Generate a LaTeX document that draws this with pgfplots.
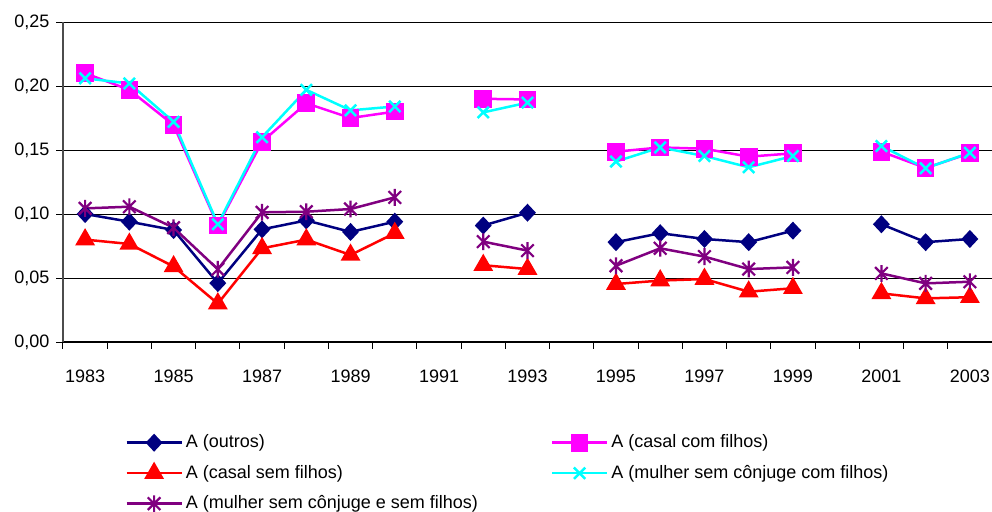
\documentclass[border=0pt]{standalone}
\usepackage{fontspec}
\setmainfont{Liberation Sans}
\usepackage{pgfplots}
\usepackage{pgfplotstable}
\pgfplotsset{compat=1.18}
\definecolor{cnavy}{RGB}{0,0,128}
\definecolor{cmag}{RGB}{255,0,255}
\definecolor{cred}{RGB}{255,0,0}
\definecolor{ccyan}{RGB}{0,255,255}
\definecolor{cpurp}{RGB}{128,0,128}
\pgfdeclareplotmark{xstar}{%
  \pgfpathmoveto{\pgfqpoint{-.75\pgfplotmarksize}{-.75\pgfplotmarksize}}%
  \pgfpathlineto{\pgfqpoint{.75\pgfplotmarksize}{.75\pgfplotmarksize}}%
  \pgfpathmoveto{\pgfqpoint{-.75\pgfplotmarksize}{.75\pgfplotmarksize}}%
  \pgfpathlineto{\pgfqpoint{.75\pgfplotmarksize}{-.75\pgfplotmarksize}}%
  \pgfpathmoveto{\pgfqpoint{0pt}{-\pgfplotmarksize}}%
  \pgfpathlineto{\pgfqpoint{0pt}{\pgfplotmarksize}}%
  \pgfusepathqstroke}
\pgfplotstableread{
year outros casalcom casalsem mulhercom mulhersem
1983 0.1000 0.2100 0.0800 0.2060 0.1044
1984 0.0940 0.1970 0.0766 0.2020 0.1057
1985 0.0875 0.1695 0.0590 0.1720 0.0893
1986 0.0460 0.0910 0.0300 0.0920 0.0568
1987 0.0880 0.1565 0.0732 0.1600 0.1013
1988 0.0950 0.1865 0.0800 0.1970 0.1018
1989 0.0860 0.1750 0.0680 0.1810 0.1039
1990 0.0940 0.1800 0.0850 0.1840 0.1130
1991 nan nan nan nan nan
1992 0.0910 0.1900 0.0600 0.1794 0.0784
1993 0.1010 0.1895 0.0570 0.1870 0.0714
1994 nan nan nan nan nan
1995 0.0780 0.1487 0.0453 0.1410 0.0596
1996 0.0850 0.1520 0.0480 0.1520 0.0732
1997 0.0805 0.1510 0.0492 0.1453 0.0667
1998 0.0780 0.1448 0.0393 0.1365 0.0570
1999 0.0870 0.1474 0.0420 0.1453 0.0583
2000 nan nan nan nan nan
2001 0.0920 0.1487 0.0380 0.1531 0.0536
2002 0.0780 0.1360 0.0341 0.1357 0.0458
2003 0.0805 0.1474 0.0350 0.1479 0.0471
}\datatable
\begin{document}
\begin{tikzpicture}
\useasboundingbox (-31.5pt,-84.5pt) rectangle (464.5pt,171pt);
\begin{axis}[
  scale only axis,
  width=464.5pt, height=160pt,
  xmin=1982.5, xmax=2003.5,
  ymin=0, ymax=0.25,
  axis x line=bottom, axis y line=left,
  axis line style={-, line width=0.75pt},
  y axis line style={gray!60!black},
  x axis line style={black},
  font=\fontsize{9}{11}\selectfont,
  ytick={0,0.05,0.10,0.15,0.20,0.25},
  ymajorgrids,
  major grid style={black, line width=0.5pt},
  yticklabel style={/pgf/number format/.cd, fixed, fixed zerofill, precision=2, use comma, assume math mode=true},
  xtick={1982.5,1983.5,1984.5,1985.5,1986.5,1987.5,1988.5,1989.5,1990.5,1991.5,1992.5,1993.5,1994.5,1995.5,1996.5,1997.5,1998.5,1999.5,2000.5,2001.5,2002.5,2003.5},
  xticklabels={},
  extra x ticks={1983,1985,1987,1989,1991,1993,1995,1997,1999,2001,2003},
  extra x tick labels={1983,1985,1987,1989,1991,1993,1995,1997,1999,2001,2003},
  extra x tick style={major tick length=0pt, grid=none, xticklabel style={yshift=-10.5pt}},
  tick align=outside,
  major tick length=3.3pt,
  tick style={black, line width=0.5pt},
  unbounded coords=jump,
  legend columns=2,
  legend cell align=left,
  legend style={draw=none, fill=none, at={(0.0667,-0.279)}, anchor=north west, inner sep=0pt,
    font=\fontsize{9}{11}\selectfont, row sep=4.2pt,
    nodes={inner sep=1.5pt}},
  legend image code/.code={\draw[mark repeat=2,mark phase=2] plot coordinates {(0pt,0pt)(13.75pt,0pt)(27.5pt,0pt)};},
  every axis plot/.append style={line width=1.25pt},
]
\addplot[cnavy, mark=diamond*, mark size=3.6pt, mark options={solid, xscale=1.25, fill=cnavy}] table[x=year, y=outros] {\datatable};
\addlegendentry{\makebox[181pt][l]{A (outros)}}
\addplot[cmag, mark=square*, mark size=3.8pt, mark options={solid, fill=cmag}] table[x=year, y=casalcom] {\datatable};
\addlegendentry{A (casal com filhos)}
\addplot[cred, mark=triangle*, mark size=4.5pt, mark options={solid, fill=cred}] table[x=year, y=casalsem] {\datatable};
\addlegendentry{\makebox[181pt][l]{A (casal sem filhos)}}
\addplot[ccyan, mark=x, mark size=4pt, mark options={solid}] table[x=year, y=mulhercom] {\datatable};
\addlegendentry{A (mulher sem cônjuge com filhos)}
\addplot[cpurp, mark=xstar, mark size=4.2pt, mark options={solid, line width=1.1pt}] table[x=year, y=mulhersem] {\datatable};
\addlegendentry{\makebox[181pt][l]{A (mulher sem cônjuge e sem filhos)}}
\end{axis}
\end{tikzpicture}
\end{document}
